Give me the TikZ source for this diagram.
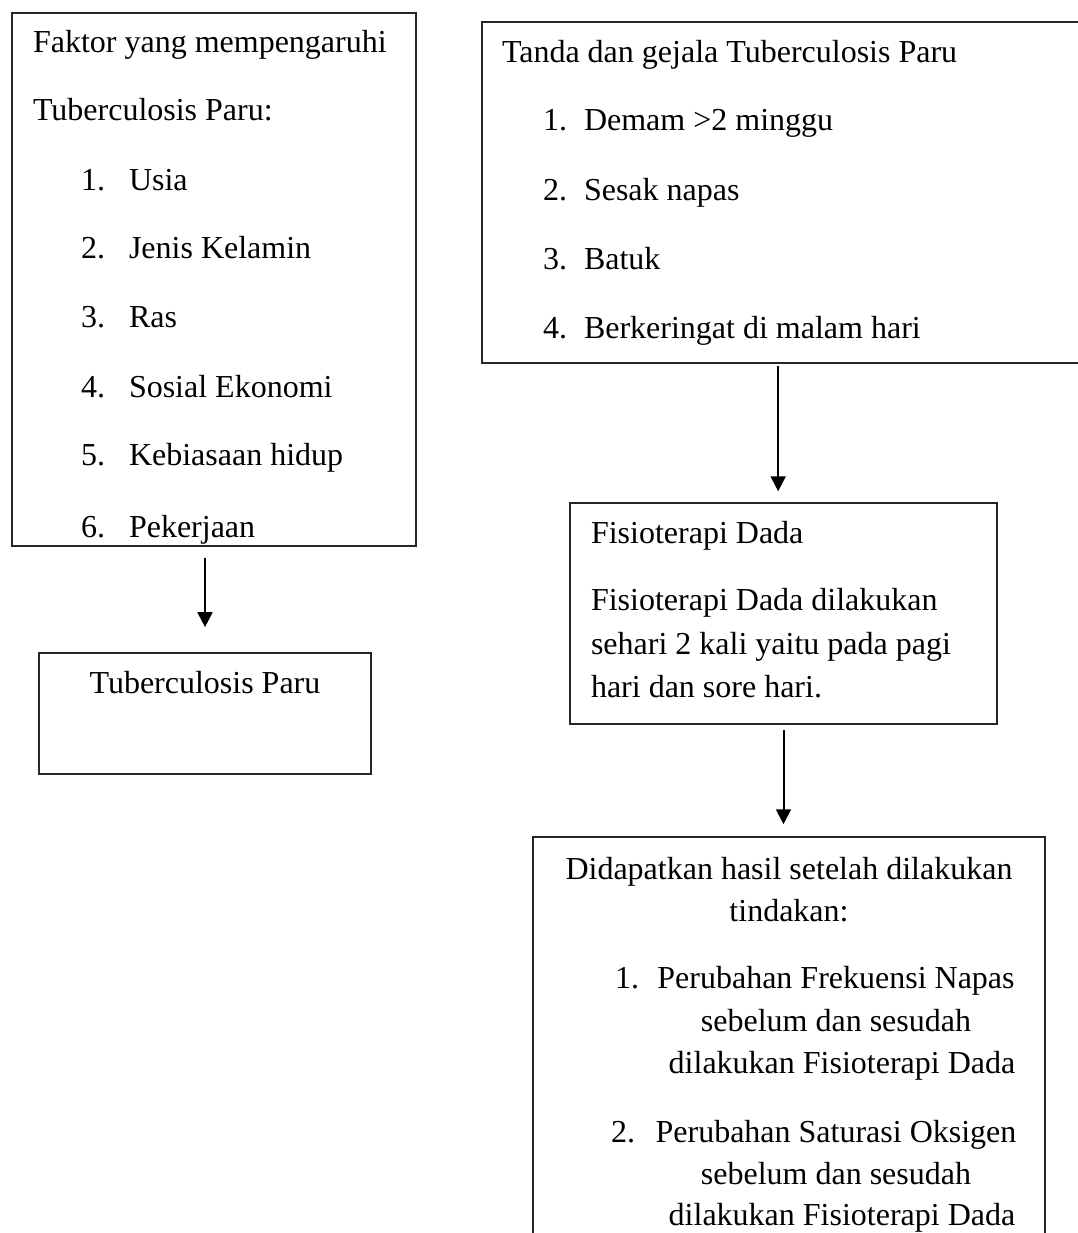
\documentclass[tikz,border=0pt]{standalone}
\usepackage{fontspec}
\setmainfont{Liberation Serif}
\usetikzlibrary{positioning,arrows.meta,fit}

\begin{document}
\begin{tikzpicture}[x=0.375pt,y=-0.375pt,line width=0.75pt,
    box/.style={draw=black!85,line width=0.6pt,inner sep=0pt},
    txt/.style={anchor=base west,inner sep=0pt,font=\fontsize{12}{14}\selectfont},
    ctr/.style={txt,anchor=base},
    >={Triangle[length=5.6pt,width=5.6pt]}]
  \useasboundingbox (0,0) rectangle (1078,1233);
  \node[box,fit={(12,13) (416,546)}]     (faktor) {};
  \node[box,fit={(39,653) (371,774)}]    (tbparu) {};
  \node[box,fit={(482,22) (1110,363)}]   (tanda)  {};
  \node[box,fit={(570,503) (997,724)}]   (fisio)  {};
  \node[box,fit={(533,837) (1045,1270)}] (hasil)  {};

  \node[txt] (f0)  at (32,52)  {Faktor yang mempengaruhi};
  \node[txt] (f00) at (32,120) {Tuberculosis Paru:};
  \foreach \n/\t/\y in {1/Usia/190,2/Jenis Kelamin/258,3/Ras/327,
                        4/Sosial Ekonomi/397,5/Kebiasaan hidup/465,6/Pekerjaan/537}{
    \node[txt] (fn\n) at (80,\y)  {\n.};
    \node[txt] (f\n)  at (128,\y) {\t};
  }
  \node[ctr] (tb) at (205,693) {Tuberculosis Paru};

  \node[txt] (g0) at (501,62) {Tanda dan gejala Tuberculosis Paru};
  \foreach \n/\t/\y in {1/Demam >2 minggu/130,2/Sesak napas/200,
                        3/Batuk/269,4/Berkeringat di malam hari/338}{
    \node[txt] (gn\n) at (542,\y) {\n.};
    \node[txt] (g\n)  at (583,\y) {\t};
  }

  \node[txt] (d0) at (590,543) {Fisioterapi Dada};
  \node[txt] (d1) at (590,610) {Fisioterapi Dada dilakukan};
  \node[txt] (d2) at (590,654) {sehari 2 kali yaitu pada pagi};
  \node[txt] (d3) at (590,697) {hari dan sore hari.};

  \node[ctr] (h0)  at (789,879) {Didapatkan hasil setelah dilakukan};
  \node[ctr] (h00) at (789,921) {tindakan:};
  \node[txt] (hn1) at (614,988)  {1.};
  \node[ctr] (h1a) at (836,988)  {Perubahan Frekuensi Napas};
  \node[ctr] (h1b) at (836,1031) {sebelum dan sesudah};
  \node[ctr] (h1c) at (842,1073) {dilakukan Fisioterapi Dada};
  \node[txt] (hn2) at (610,1142) {2.};
  \node[ctr] (h2a) at (836,1142) {Perubahan Saturasi Oksigen};
  \node[ctr] (h2b) at (836,1184) {sebelum dan sesudah};
  \node[ctr] (h2c) at (842,1225) {dilakukan Fisioterapi Dada};

  \draw[->,shorten <=4.1pt,shorten >=9.4pt] (tbparu.north |- faktor.south) -- (tbparu.north);
  \draw[->,shorten <=0.75pt,shorten >=4.1pt] ([xshift=-2pt]fisio.north |- tanda.south) -- ([xshift=-2pt]fisio.north);
  \draw[->,shorten <=1.9pt,shorten >=4.5pt] (fisio.south) -- (fisio.south |- hasil.north);
\end{tikzpicture}
\end{document}
